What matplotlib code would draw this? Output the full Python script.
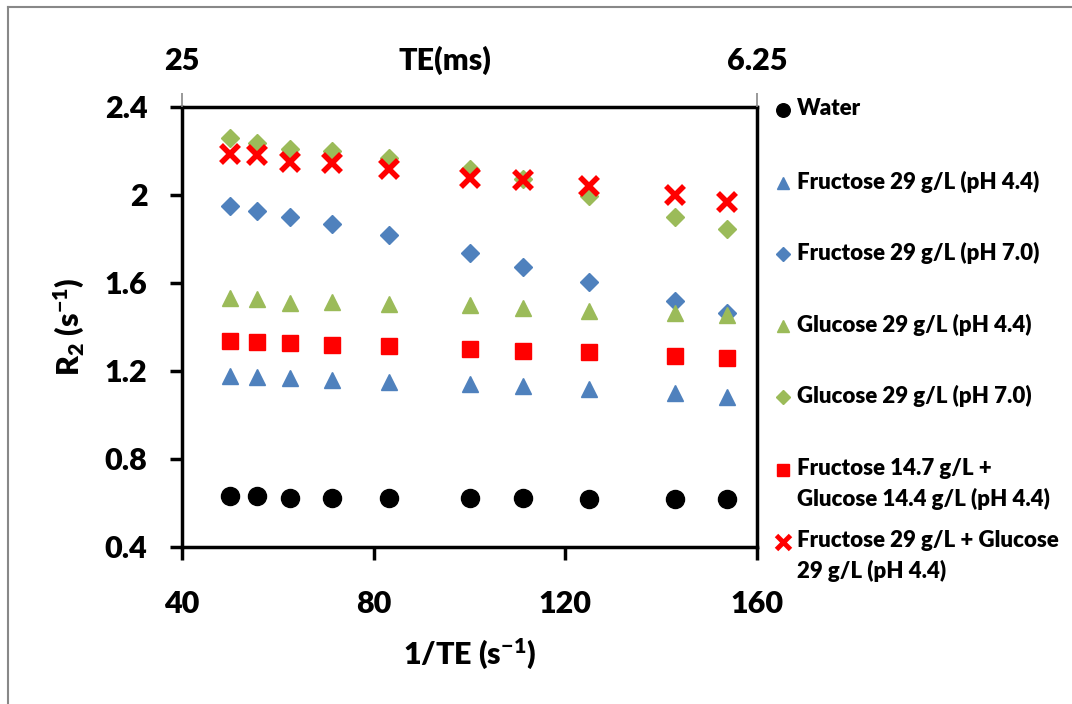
import matplotlib.pyplot as plt
from matplotlib.lines import Line2D

plt.rcParams['font.family'] = ['Lato', 'DejaVu Sans']
plt.rcParams['font.weight'] = 'heavy'
plt.rcParams['mathtext.default'] = 'regular'

# 1/TE (s^-1) for TE = 20, 18, 16, 14, 12, 10, 9, 8, 7, 6.5 ms
inv_te = [50.0, 55.6, 62.5, 71.4, 83.3, 100.0, 111.1, 125.0, 142.9, 153.8]

water = [0.63, 0.63, 0.625, 0.625, 0.625, 0.625, 0.625, 0.62, 0.62, 0.62]
fru_44 = [1.177, 1.174, 1.167, 1.159, 1.151, 1.141, 1.132, 1.118, 1.099, 1.083]
fru_70 = [1.95, 1.927, 1.899, 1.867, 1.818, 1.735, 1.674, 1.603, 1.52, 1.465]
glu_44 = [1.532, 1.527, 1.509, 1.514, 1.505, 1.50, 1.486, 1.473, 1.464, 1.455]
glu_70 = [2.258, 2.238, 2.209, 2.20, 2.17, 2.117, 2.071, 1.995, 1.899, 1.844]
mix_half = [1.338, 1.333, 1.329, 1.318, 1.312, 1.30, 1.291, 1.285, 1.268, 1.258]
mix_full = [2.185, 2.182, 2.151, 2.147, 2.118, 2.076, 2.068, 2.042, 2.0, 1.97]

labels = ['Water',
          'Fructose 29 g/L (pH 4.4)',
          'Fructose 29 g/L (pH 7.0)',
          'Glucose 29 g/L (pH 4.4)',
          'Glucose 29 g/L (pH 7.0)',
          'Fructose 14.7 g/L +\nGlucose 14.4 g/L (pH 4.4)',
          'Fructose 29 g/L + Glucose\n29 g/L (pH 4.4)']

blue = '#4F81BD'
green = '#9BBB59'
red = '#FF0000'

styles = [
    dict(marker='o', color='black', ms=13),
    dict(marker='^', color=blue, ms=12),
    dict(marker='D', color=blue, ms=9.5),
    dict(marker='^', color=green, ms=12),
    dict(marker='D', color=green, ms=9.5),
    dict(marker='s', color=red, ms=12),
    dict(marker='x', color=red, ms=13, mew=4),
]
series = [water, fru_44, fru_70, glu_44, glu_70, mix_half, mix_full]

fig = plt.figure(figsize=(10.72, 7.04), dpi=100)
ax = fig.add_axes([182 / 1072, 1 - 547 / 704, 575 / 1072, 440 / 704])

for ys, st in zip(series, styles):
    ax.plot(inv_te, ys, linestyle='none', **st)

ax.set_xlim(40, 160)
ax.set_ylim(0.4, 2.4)
ax.set_xticks([40, 80, 120, 160])
ax.set_yticks([0.4, 0.8, 1.2, 1.6, 2.0, 2.4])
ax.set_yticklabels(['0.4', '0.8', '1.2', '1.6', '2', '2.4'])
ax.tick_params(direction='out', length=9, width=2.5, labelsize=22)
ax.tick_params(axis='x', pad=22)
ax.tick_params(axis='y', pad=16)
for s in ax.spines.values():
    s.set_linewidth(2.5)
ax.set_xlabel('1/TE (s$^{-1}$)', fontsize=22, fontweight='heavy', labelpad=13)
ax.set_ylabel('R$_2$ (s$^{-1}$)', fontsize=22, fontweight='heavy', labelpad=13)

# top axis in TE (ms)
ax2 = ax.twiny()
ax2.set_xlim(ax.get_xlim())
ax2.set_xticks([40, 160])
ax2.set_xticklabels(['25', '6.25'])
ax2.tick_params(direction='out', length=10, width=1.2, color='#888888',
                labelsize=22, pad=13)
ax2.spines['top'].set_visible(False)
fig.text(445 / 1072, 1 - 60 / 704, 'TE(ms)', fontsize=22, fontweight='heavy',
         ha='center', va='center')

# legend drawn by hand so markers sit on the first line of text
leg_y = [110, 183, 254, 326, 397, 470, 542]
for lab, st, py in zip(labels, styles, leg_y):
    small = dict(st)
    small['ms'] = st['ms'] * 0.75
    if st['marker'] == 'x':
        small['mew'] = 3.5
    fig.add_artist(Line2D([783 / 1072], [1 - py / 704], transform=fig.transFigure,
                          linestyle='none', **small))
    fig.text(797 / 1072, 1 - (py - 12) / 704, lab, fontsize=16, fontweight='heavy',
             ha='left', va='top', linespacing=1.5)

# chart border (left and top edges)
fig.add_artist(Line2D([8 / 1072, 8 / 1072], [0, 1 - 7 / 704],
                      transform=fig.transFigure, color='#888888', lw=1.5))
fig.add_artist(Line2D([8 / 1072, 1], [1 - 7 / 704, 1 - 7 / 704],
                      transform=fig.transFigure, color='#888888', lw=1.5))

fig.savefig('out.png', dpi=100)
